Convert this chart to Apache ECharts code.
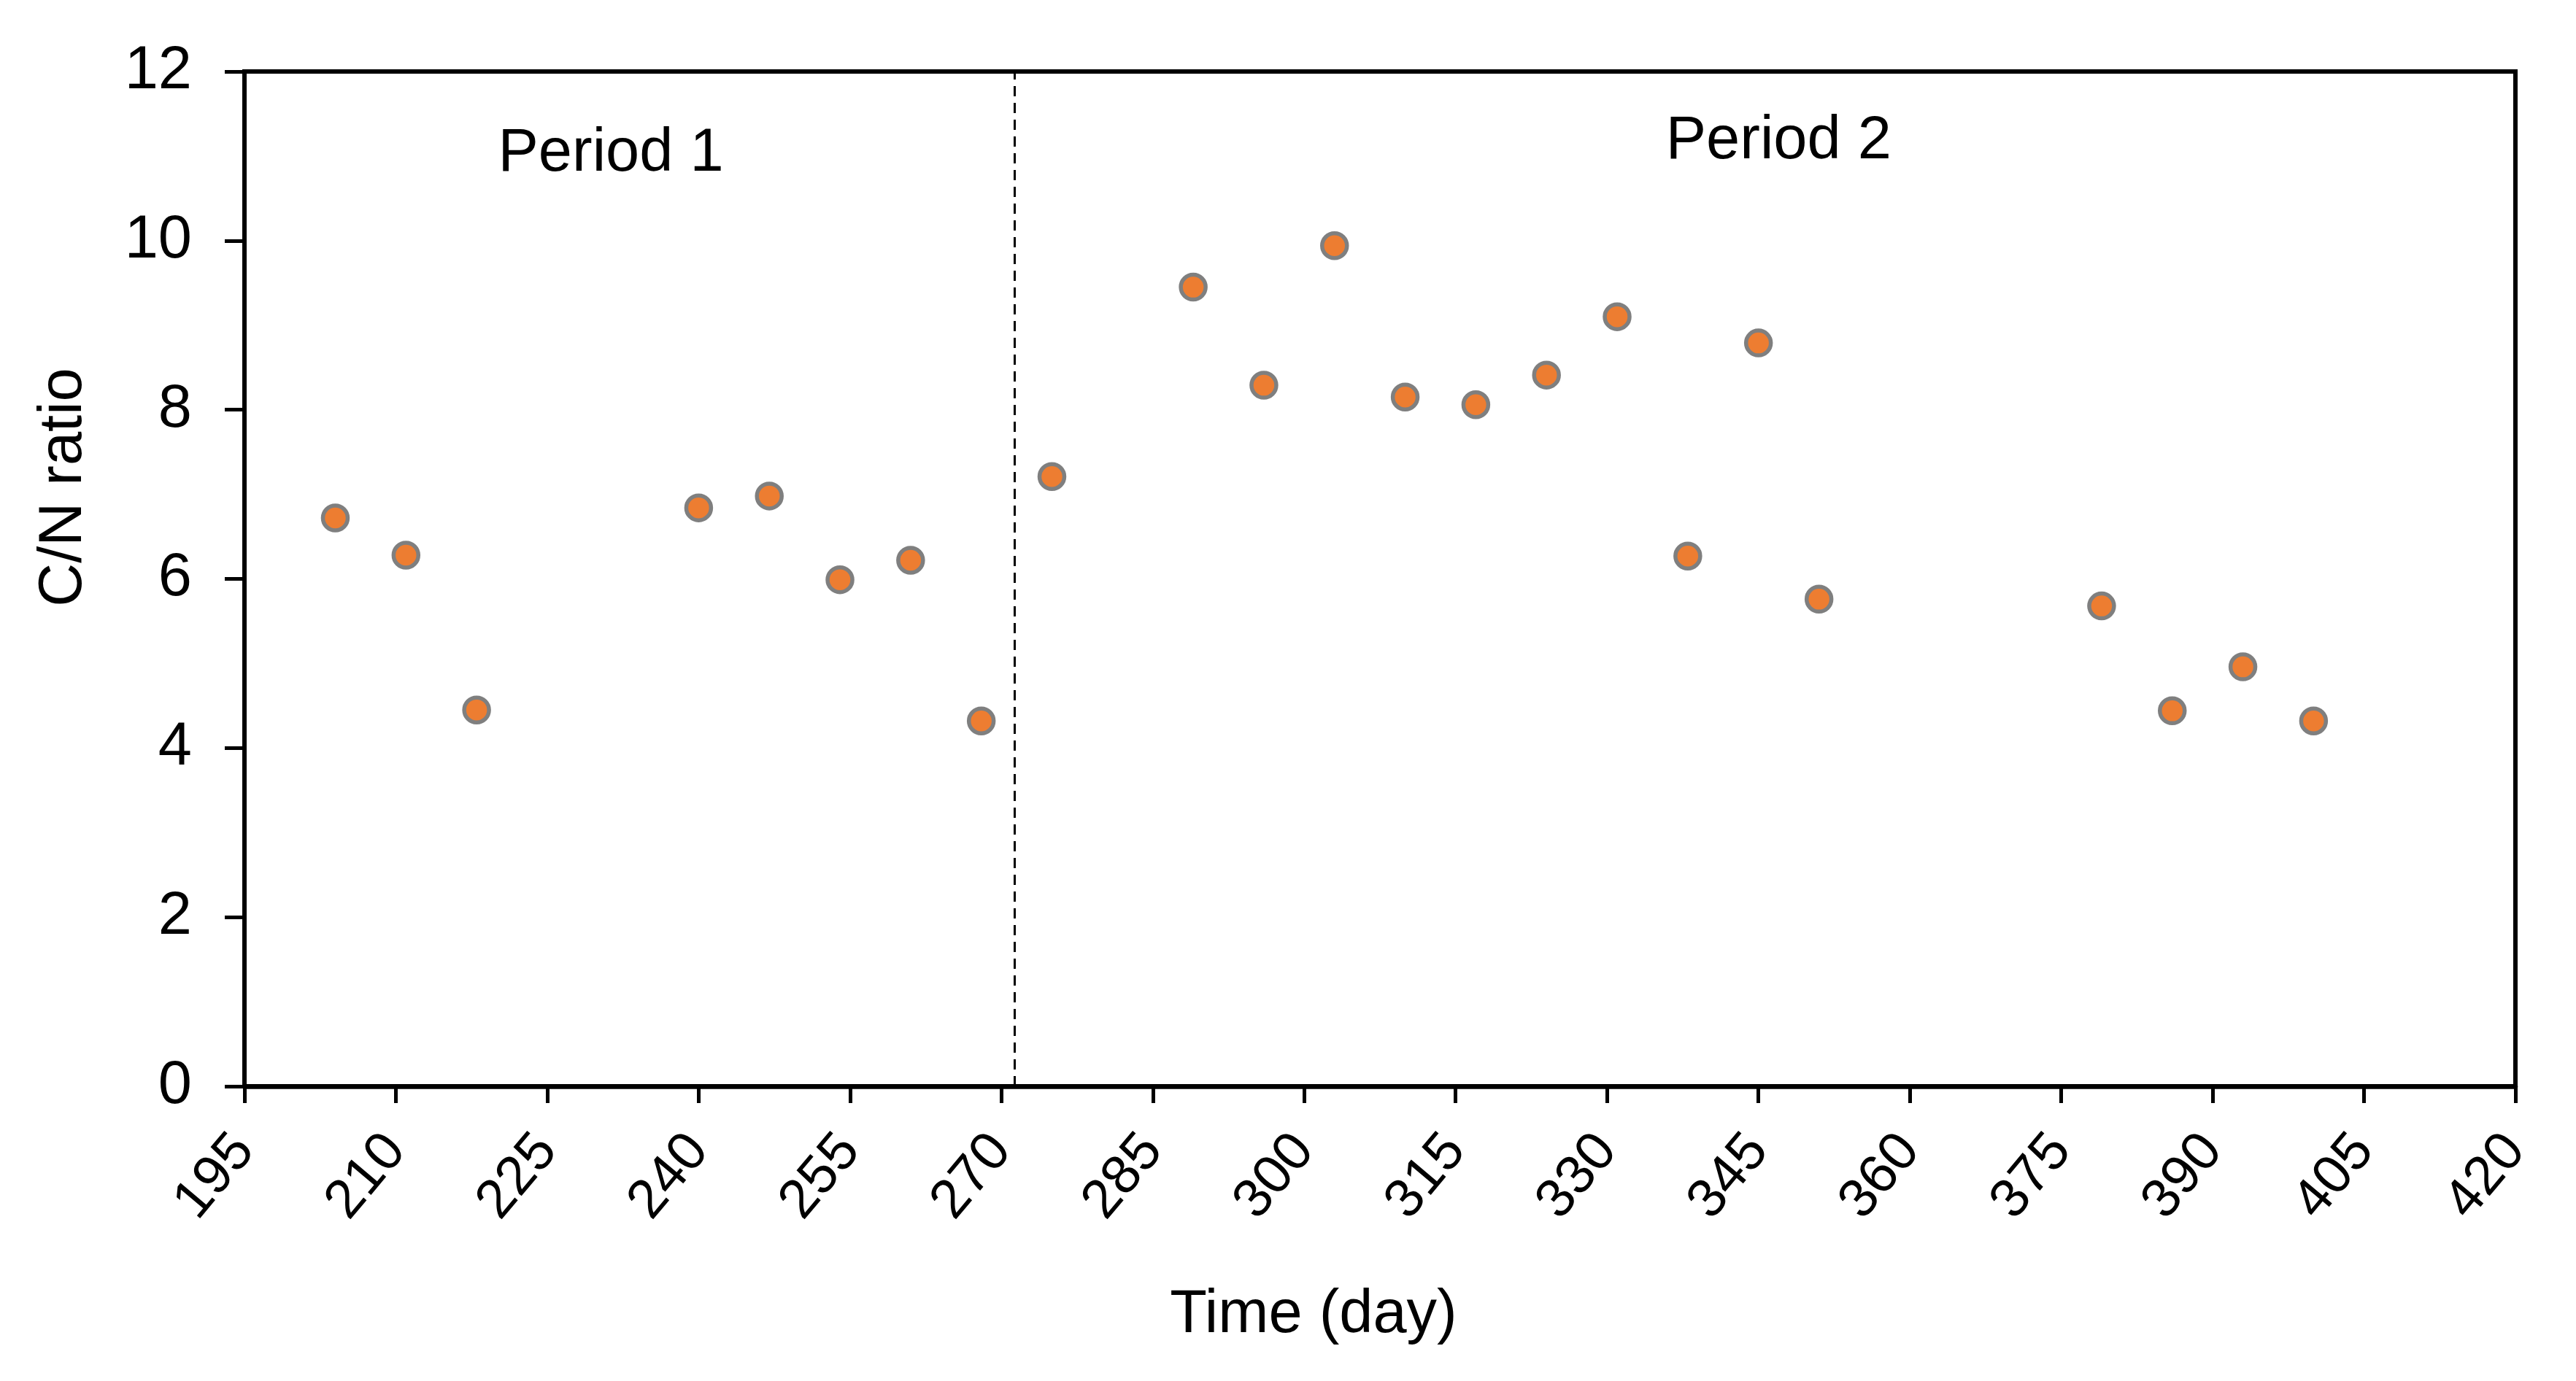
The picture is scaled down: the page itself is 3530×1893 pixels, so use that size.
<!DOCTYPE html>
<html>
<head>
<meta charset="utf-8">
<script src="https://cdn.jsdelivr.net/npm/echarts@6/dist/echarts.min.js"></script>
<style>
html,body{margin:0;padding:0;background:#fff;}
#chart{width:3530px;height:1893px;}
</style>
</head>
<body>
<div id="chart"></div>
<script>
var days = [204, 211, 218, 240, 247, 254, 261, 268, 275, 289, 296, 303, 310, 317, 324, 331, 338, 345, 351, 379, 386, 393, 400];
var cnRatio = [6.72, 6.28, 4.45, 6.84, 6.98, 5.99, 6.22, 4.32, 7.21, 9.45, 8.29, 9.94, 8.15, 8.06, 8.41, 9.10, 6.27, 8.79, 5.76, 5.68, 4.44, 4.96, 4.32];
var periodBoundary = 271.3;
var periodLabels = ['Period 1', 'Period 2'];
var periodLabelPos = [[231.3, 11.02], [347.0, 11.17]];
var xTitle = 'Time (day)';
var yTitle = 'C/N ratio';

var FONT = '"Liberation Sans", Arial, sans-serif';
var chart = echarts.init(document.getElementById('chart'), null, {renderer: 'canvas'});

var points = days.map(function (d, i) { return [d, cnRatio[i]]; });

chart.setOption({
  animation: false,
  backgroundColor: '#ffffff',
  grid: {
    left: 335, right: 83, top: 98, bottom: 404,
    show: true, borderColor: '#000000', borderWidth: 6, backgroundColor: 'transparent'
  },
  xAxis: {
    type: 'value', min: 195, max: 420, interval: 15,
    splitLine: {show: false},
    axisLine: {show: true, onZero: false, lineStyle: {color: '#000', width: 6.5}},
    axisTick: {show: true, inside: false, length: 23, lineStyle: {color: '#000', width: 5}},
    axisLabel: {show: true, rotate: 50, margin: 76, fontSize: 75, color: '#000', fontFamily: FONT,
      showMinLabel: true, showMaxLabel: true}
  },
  yAxis: {
    type: 'value', min: 0, max: 12, interval: 2,
    splitLine: {show: false},
    axisLine: {show: true, onZero: false, lineStyle: {color: '#000', width: 6}},
    axisTick: {show: true, inside: false, length: 27, lineStyle: {color: '#000', width: 5}},
    axisLabel: {show: true, margin: 72, fontSize: 83, color: '#000', fontFamily: FONT}
  },
  graphic: [
    {type: 'text', x: 1800, y: 1803, style: {text: xTitle, font: '83px ' + FONT, fill: '#000', textAlign: 'center', textVerticalAlign: 'middle'}},
    {type: 'text', x: 88, y: 668, rotation: Math.PI / 2, style: {text: yTitle, font: '83px ' + FONT, fill: '#000', textAlign: 'center', textVerticalAlign: 'middle'}}
  ],
  series: [{
    type: 'scatter',
    data: points,
    symbol: 'circle',
    symbolSize: 34,
    itemStyle: {color: '#ED7D31', borderColor: '#7F7F7F', borderWidth: 5.5, opacity: 1},
    markLine: {
      silent: true,
      symbol: ['none', 'none'],
      label: {show: false},
      lineStyle: {color: '#000', width: 3, type: [14, 9]},
      data: [{xAxis: periodBoundary}]
    },
    markPoint: {
      silent: true,
      symbol: 'circle',
      symbolSize: 0,
      label: {show: true, position: 'inside', fontSize: 83, color: '#000', fontFamily: FONT,
        formatter: function (p) { return p.name; }},
      data: periodLabels.map(function (t, i) { return {name: t, coord: periodLabelPos[i]}; })
    }
  }]
});
</script>
</body>
</html>
